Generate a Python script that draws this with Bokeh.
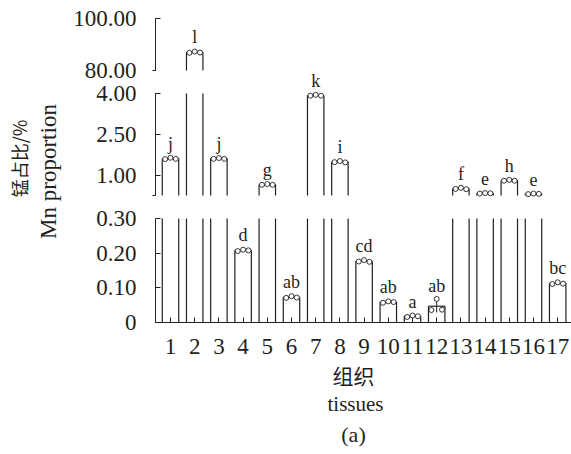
import math
from bokeh.plotting import figure
from bokeh.models import (Range1d, FixedTicker, PrintfTickFormatter,
                          ColumnDataSource, LabelSet, LinearAxis)
from bokeh.embed import file_html
from bokeh.resources import INLINE
from bokeh.core.properties import value

# Mn proportion (%) in 17 tissues: mean, SD, three replicates, significance letters
tissues = list(range(1, 18))
mn_mean = [1.62, 87.0, 1.62, 0.208, 0.67, 0.073, 3.93, 1.50, 0.177,
           0.059, 0.018, 0.047, 0.52, 0.35, 0.82, 0.33, 0.113]
mn_sd = [0.03, 0.4, 0.03, 0.003, 0.02, 0.004, 0.03, 0.03, 0.003,
         0.003, 0.002, 0.018, 0.02, 0.01, 0.02, 0.01, 0.003]
rep_1 = [1.60, 86.8, 1.61, 0.206, 0.66, 0.071, 3.92, 1.49, 0.176,
         0.057, 0.016, 0.036, 0.51, 0.34, 0.81, 0.32, 0.111]
rep_2 = [1.65, 87.3, 1.64, 0.210, 0.69, 0.076, 3.95, 1.53, 0.180,
         0.061, 0.020, 0.068, 0.55, 0.36, 0.84, 0.34, 0.116]
rep_3 = [1.61, 86.9, 1.61, 0.208, 0.66, 0.072, 3.92, 1.48, 0.175,
         0.059, 0.018, 0.037, 0.50, 0.35, 0.81, 0.33, 0.112]
letters = ["j", "l", "j", "d", "g", "ab", "k", "i", "cd", "ab", "a", "ab",
           "f", "e", "h", "e", "bc"]

# broken y axis: name, axis low, axis high, inner ticks, pixel rows of (high, low),
# and how the segment floor is marked (None: no floor tick, True/False: labelled)
segments = [
    ("upper", 80.0, 100.0, [100], (18, 70), True),
    ("middle", 0.27, 4.0, [1.0, 2.5, 4.0], (93, 195), False),
    ("lower", 0.0, 0.30, [0.0, 0.1, 0.2, 0.3], (218, 322), None),
]

INK = "#231f20"
SERIF = "Liberation Serif"
CJK = "Noto Sans CJK SC"
TICK_FONT = "23px"
BAR_W = 0.68
DOT_DX = [-0.22, 0.0, 0.22]
LABEL_STANDOFF = 19

W, H = 571, 454
X_UNIT_PX = 24.2          # one tissue slot in pixels
FIRST_SLOT_PX = 170       # pixel column of tissue 1
AXIS_LEFT = 0.38          # where the broken y axis stands (x data units)
AXIS_RIGHT = 17.57

# the frame fills the whole canvas; every axis is pinned inside it
p = figure(width=W, height=H,
           x_range=Range1d(1 - FIRST_SLOT_PX / X_UNIT_PX,
                           1 + (W - FIRST_SLOT_PX) / X_UNIT_PX),
           y_range=Range1d(H, 0),
           output_backend="svg", toolbar_location=None,
           x_axis_location=None, y_axis_location=None, min_border=0,
           background_fill_color="white", border_fill_color="white")
p.outline_line_color = None
p.grid.visible = False
p.extra_x_ranges["page"] = Range1d(0, W)


def style_axis(ax):
    ax.minor_tick_line_color = None
    ax.major_tick_in = 5
    ax.major_tick_out = 0
    ax.axis_line_color = INK
    ax.major_tick_line_color = INK
    ax.major_label_text_font = SERIF
    ax.major_label_text_font_size = TICK_FONT
    ax.major_label_text_color = INK


for name, low, high, ticks, (px_hi, px_lo), floor in segments:
    # each segment gets its own linear scale laid over the whole frame
    k = (px_lo - px_hi) / (high - low)
    p.extra_y_ranges[name] = Range1d(low - (H - px_lo) / k, high + px_hi / k)

    # bar outlines, cut at the segment limits
    ex, ey0, ey1 = [], [], []
    tx0, tx1, ty = [], [], []
    for t, m in zip(tissues, mn_mean):
        if m > low:
            for side in (-BAR_W / 2, BAR_W / 2):
                ex.append(t + side)
                ey0.append(max(0.0, low))
                ey1.append(min(m, high))
        if low <= m <= high:
            tx0.append(t - BAR_W / 2)
            tx1.append(t + BAR_W / 2)
            ty.append(m)
    p.segment(x0=ex, x1=ex, y0=ey0, y1=ey1, y_range_name=name,
              line_color=INK, line_width=1.2)
    p.segment(x0=tx0, x1=tx1, y0=ty, y1=ty, y_range_name=name,
              line_color=INK, line_width=1.2)

    # error bars (mean +- SD) with caps
    idx = [i for i, m in enumerate(mn_mean) if low <= m <= high]
    xs = [tissues[i] for i in idx]
    lo = [mn_mean[i] - mn_sd[i] for i in idx]
    hi = [mn_mean[i] + mn_sd[i] for i in idx]
    p.segment(x0=xs, x1=xs, y0=lo, y1=hi, y_range_name=name,
              line_color=INK, line_width=1)
    p.segment(x0=[x - 0.1 for x in xs], x1=[x + 0.1 for x in xs], y0=hi, y1=hi,
              y_range_name=name, line_color=INK, line_width=1)

    # individual replicates
    for dx, reps in zip(DOT_DX, (rep_1, rep_2, rep_3)):
        p.scatter(x=[tissues[i] + dx for i in idx], y=[reps[i] for i in idx],
                  y_range_name=name, marker="circle", size=5,
                  fill_color="white", line_color=INK, line_width=0.9)

    # significance letters
    src = ColumnDataSource(dict(x=xs, y=hi, t=[letters[i] for i in idx]))
    p.add_layout(LabelSet(x="x", y="y", text="t", source=src,
                          y_range_name=name, y_offset=8,
                          text_align="center", text_baseline="alphabetic",
                          text_font=SERIF, text_font_size="18px",
                          text_color=INK))

    # y axis piece for this segment
    ya = LinearAxis(y_range_name=name, fixed_location=AXIS_LEFT,
                    bounds=(low, high), ticker=FixedTicker(ticks=ticks),
                    formatter=PrintfTickFormatter(format="%.2f"),
                    major_label_overrides={0: "0"},
                    major_label_standoff=LABEL_STANDOFF)
    style_axis(ya)
    p.add_layout(ya, "left")

    # short outward tick closing the segment at its floor
    if floor is not None:
        fa = LinearAxis(y_range_name=name, fixed_location=AXIS_LEFT,
                        bounds=(low, high), ticker=FixedTicker(ticks=[low]),
                        formatter=PrintfTickFormatter(format="%.2f"),
                        major_label_standoff=LABEL_STANDOFF - 3)
        style_axis(fa)
        fa.major_tick_in = 0
        fa.major_tick_out = 3
        if not floor:
            fa.major_label_text_color = None
        p.add_layout(fa, "left")

# x axis along zero of the lower segment
xa = LinearAxis(y_range_name="lower", fixed_location=0.0,
                bounds=(AXIS_LEFT, AXIS_RIGHT), ticker=FixedTicker(ticks=tissues),
                major_label_standoff=16)
style_axis(xa)
p.add_layout(xa, "below")

# axis titles and panel tag
p.text(x=[18], y=[158], x_range_name="page", text=["锰占比/%"],
       angle=math.pi / 2, text_align="center", text_baseline="middle",
       text_font=value(CJK), text_font_size="18px", text_color=INK)
p.text(x=[48], y=[171], x_range_name="page", text=["Mn proportion"],
       angle=math.pi / 2, text_align="center", text_baseline="middle",
       text_font=value(SERIF), text_font_size="23px", text_color=INK)
p.text(x=[353], y=[374], x_range_name="page", text=["组织"],
       text_align="center", text_baseline="middle", text_font=value(CJK),
       text_font_size="21px", text_color=INK)
p.text(x=[355], y=[403], x_range_name="page", text=["tissues"],
       text_align="center", text_baseline="middle", text_font=value(SERIF),
       text_font_size="21px", text_color=INK)
p.text(x=[353], y=[434], x_range_name="page", text=["(a)"],
       text_align="center", text_baseline="middle", text_font=value(SERIF),
       text_font_size="22px", text_color=INK)

open("out.html", "w").write(file_html(p, INLINE))
